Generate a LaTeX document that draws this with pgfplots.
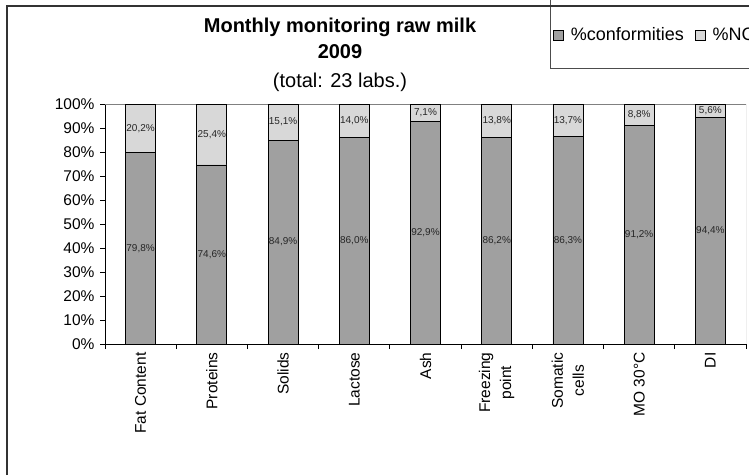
\documentclass[border=0pt]{standalone}
\usepackage{fontspec}
\setmainfont{Liberation Sans}
\usepackage{pgfplots}
\pgfplotsset{compat=1.18}
\definecolor{darkbar}{RGB}{160,160,160}
\definecolor{lightbar}{RGB}{216,216,216}
\begin{document}
\begin{tikzpicture}
\useasboundingbox (0,0) rectangle (749pt,475pt);
\clip (0,0) rectangle (749pt,475pt);
\fill[white] (0,0) rectangle (749pt,475pt);
\begin{axis}[
  at={(105pt,131pt)}, anchor=south west,
  scale only axis, width=641pt, height=240pt,
  ybar stacked, bar width=30pt,
  xmin=-0.5, xmax=8.5, ymin=0, ymax=100,
  axis x line*=bottom, axis y line*=left,
  axis line style={black, line width=0.8pt},
  tick align=outside,
  /pgf/number format/assume math mode=true,
  xtick={0,...,8},
  xticklabels={Fat Content, Proteins, Solids, Lactose, Ash, {Freezing\\point}, {Somatic\\cells}, MO 30°C, DI},
  major x tick style={draw=none},
  minor xtick={-0.5,0.5,...,8.5},
  minor tick length=5pt, major tick length=5pt,
  every tick/.style={black, line width=0.8pt},
  ytick={0,10,...,100},
  yticklabel={\pgfmathprintnumber{\tick}\%},
  yticklabel style={font=\fontsize{15.5}{18}\selectfont, xshift=-2pt},
  xticklabel style={rotate=90, anchor=east, align=center, font=\fontsize{15.5}{21}\selectfont},
  visualization depends on=rawy\as\rawy,
  nodes near coords={\pgfmathprintnumber[fixed,fixed zerofill,precision=1,use comma]{\rawy}\%},
  every node near coord/.append style={anchor=center, font=\fontsize{10}{12}\selectfont, text=black!85},
  legend columns=2,
  legend cell align=left,
  legend image code/.code={\draw[#1,draw=black,line width=0.6pt] (0pt,-5pt) rectangle (10pt,5pt); \path (17pt,0pt);},
  legend style={at={(axis description cs:0.6989,1.2875)}, anchor=west, draw=none, fill=none, inner sep=0pt, nodes={inner sep=0pt}, font=\fontsize{18}{20}\selectfont, /tikz/every even column/.append style={column sep=11pt}},
]
\addplot[fill=darkbar, draw=black, line width=0.8pt] coordinates {(0,79.8) (1,74.6) (2,84.9) (3,86.0) (4,92.9) (5,86.2) (6,86.3) (7,91.2) (8,94.4)};
\addlegendentry{\%conformities}
\addplot[fill=lightbar, draw=black, line width=0.8pt] coordinates {(0,20.2) (1,25.4) (2,15.1) (3,14.0) (4,7.1) (5,13.8) (6,13.7) (7,8.8) (8,5.6)};
\addlegendentry{\%NC}
\draw[gray, line width=0.8pt] (rel axis cs:0,1) -- (rel axis cs:1,1) -- (rel axis cs:1,0);
\end{axis}
\draw[black!70, line width=1pt] (550pt,475pt) -- (550pt,406pt) -- (760pt,406pt);
\draw[black!80, line width=2pt] (7pt,0pt) -- (7pt,468.5pt) -- (760pt,468.5pt);
\node[font=\bfseries\fontsize{20}{24}\selectfont, anchor=base] at (340pt,442pt) {Monthly monitoring raw milk};
\node[font=\bfseries\fontsize{20}{24}\selectfont, anchor=base] at (340pt,416pt) {2009};
\node[font=\fontsize{20}{24}\selectfont, anchor=base] at (340pt,388pt) {(total: 23 labs.)};
\end{tikzpicture}
\end{document}
